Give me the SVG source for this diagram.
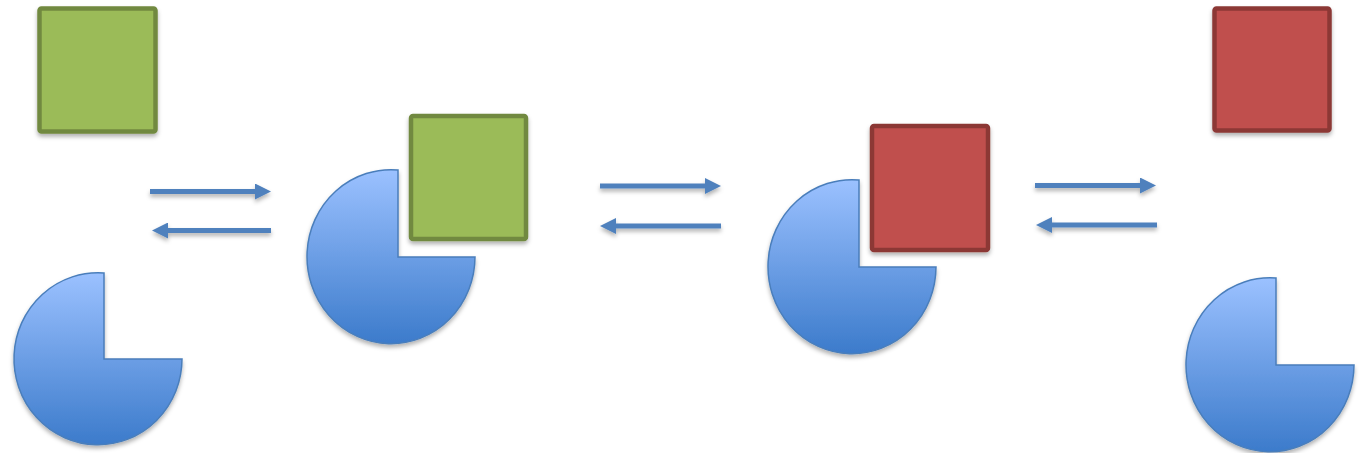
<svg xmlns="http://www.w3.org/2000/svg" width="1359" height="453" viewBox="0 0 1359 453">
<defs>
<linearGradient id="blue" x1="0" y1="0" x2="0" y2="1">
<stop offset="0" stop-color="#9BC1FF"/>
<stop offset="1" stop-color="#3C7BCB"/>
</linearGradient>
<filter id="sh" x="-20%" y="-20%" width="140%" height="140%">
<feDropShadow dx="0" dy="3" stdDeviation="2" flood-color="#000" flood-opacity="0.3"/>
</filter>
<filter id="sh2" filterUnits="userSpaceOnUse" x="0" y="0" width="1359" height="453">
<feDropShadow dx="0" dy="3" stdDeviation="2" flood-color="#000" flood-opacity="0.3"/>
</filter>
<marker id="ah" markerUnits="userSpaceOnUse" markerWidth="16" markerHeight="16" viewBox="0 0 16 16" refX="2" refY="8" orient="auto">
<path d="M0,0 L16,8 L0,16 z" fill="#4F81BD"/>
</marker>
<style>
.pie{fill:url(#blue);stroke:#4A7EBB;stroke-width:1.5;filter:url(#sh)}
.green{fill:#9BBB59;stroke:#71893F;stroke-width:4.5;filter:url(#sh)}
.red{fill:#C0504D;stroke:#8C3836;stroke-width:4.5;filter:url(#sh)}
.arr{stroke:#4F81BD;stroke-width:5;fill:none;marker-end:url(#ah)}
</style>
</defs>
<g id="node-pie1"><path class="pie" d="M104,273 L104,359 L182,359 A84 86 0 1 1 104,273 Z"/></g>
<g id="node-green1"><rect class="green" x="39.5" y="8.5" width="116" height="123" rx="2"/></g>
<g id="node-pie2"><path class="pie" d="M398,170 L398,257 L475,257 A84 87 0 1 1 398,170 Z"/></g>
<g id="node-green2"><rect class="green" x="411" y="116" width="115" height="123" rx="2"/></g>
<g id="node-pie3"><path class="pie" d="M859,180 L859,267 L936,267 A84 87 0 1 1 859,180 Z"/></g>
<g id="node-red2"><rect class="red" x="872" y="126" width="116" height="124" rx="2"/></g>
<g id="node-red1"><rect class="red" x="1214.5" y="8.5" width="115" height="122" rx="2"/></g>
<g id="node-pie4"><path class="pie" d="M1276,278 L1276,365 L1354,365 A84 87 0 1 1 1276,278 Z"/></g>
<g id="connectors" filter="url(#sh2)">
<line class="arr" x1="150" y1="191.5" x2="257" y2="191.5"/>
<line class="arr" x1="271" y1="230.5" x2="166" y2="230.5"/>
<line class="arr" x1="600" y1="186" x2="707" y2="186"/>
<line class="arr" x1="721" y1="226" x2="614" y2="226"/>
<line class="arr" x1="1035" y1="185.5" x2="1142" y2="185.5"/>
<line class="arr" x1="1157" y1="225" x2="1050" y2="225"/>
</g>
</svg>
